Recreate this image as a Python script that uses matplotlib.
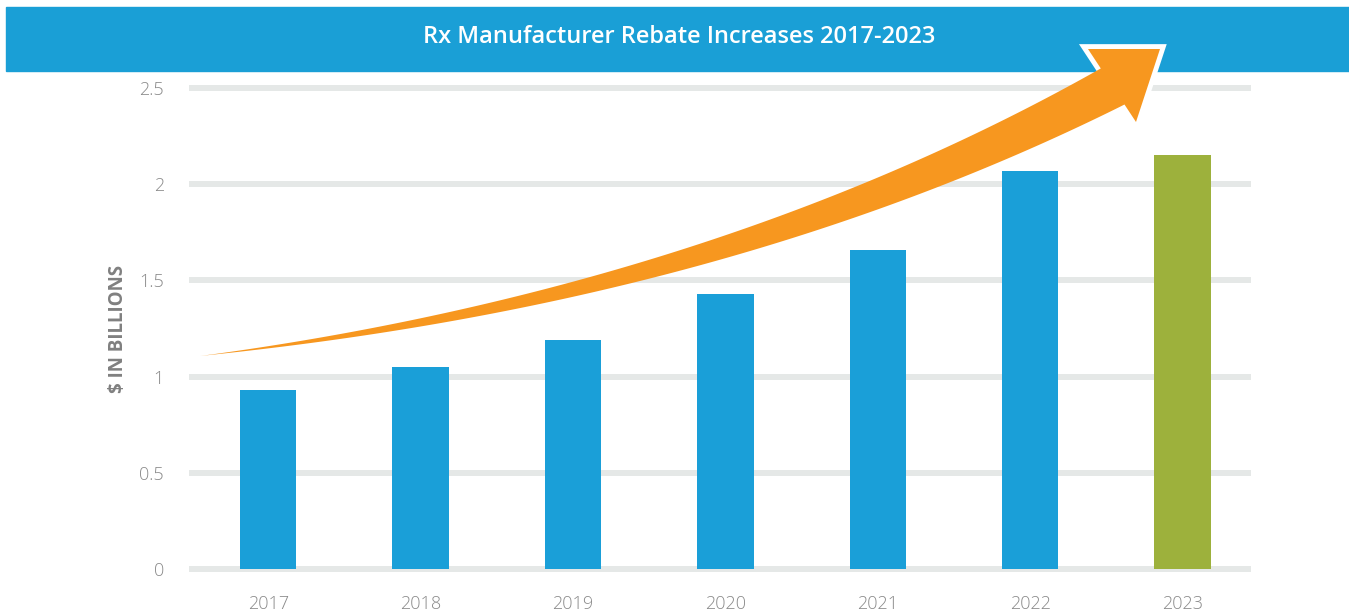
import numpy as np
import matplotlib
matplotlib.use('Agg')
import matplotlib.pyplot as plt
from matplotlib.patches import Rectangle, Polygon

years = ['2017', '2018', '2019', '2020', '2021', '2022', '2023']
rebates = [0.93, 1.05, 1.19, 1.43, 1.66, 2.07, 2.15]
yticks = [0, 0.5, 1, 1.5, 2, 2.5]
ytick_labels = ['0', '0.5', '1', '1.5', '2', '2.5']
title = 'Rx Manufacturer Rebate Increases 2017-2023'
ylabel = '$ IN BILLIONS'

blue = '#1a9fd8'
green = '#9db13c'
orange = '#f7971f'
grid_col = '#e5e8e7'
tick_col = '#8a8a8a'

plt.rcParams['font.family'] = ['Open Sans', 'DejaVu Sans']

W, H = 1349, 616
fig = plt.figure(figsize=(W / 100, H / 100), dpi=100)

# main axes (pixel box: x 189-1251, y0 at 569 from top)
ax = fig.add_axes([189 / W, 43.1 / H, (1251 - 189) / W, (531.9 - 43.1) / H])
x = np.arange(len(years))
colors = [blue] * (len(years) - 1) + [green]
ax.bar(x, rebates, width=0.37, color=colors, zorder=3)
ax.set_xlim(-0.52, 6.45)
ax.set_ylim(-0.02, 2.52)
ax.set_yticks(yticks)
ax.set_yticklabels(ytick_labels)
ax.set_xticks(x)
ax.set_xticklabels(years)
for y in yticks:
    ax.axhline(y, color=grid_col, lw=4.3, zorder=1, solid_capstyle='butt')
for s in ax.spines.values():
    s.set_visible(False)
ax.tick_params(axis='both', length=0, colors=tick_col, labelsize=13)
ax.tick_params(axis='y', pad=18)
ax.tick_params(axis='x', pad=16)
for lab in ax.get_xticklabels() + ax.get_yticklabels():
    lab.set_fontweight('light')
ax.set_ylabel(ylabel, fontsize=13.5, fontweight='bold', color='#808080', labelpad=8)

# overlay in pixel coords: title band + arrow
ov = fig.add_axes([0, 0, 1, 1], facecolor='none')
ov.set_xlim(0, W)
ov.set_ylim(H, 0)
ov.axis('off')
ov.add_patch(Rectangle((6, 7), W - 6, 64, color='#1a9fd6', zorder=1))
ov.text(679, 37, title, color='white', fontsize=17, fontweight='semibold',
        ha='center', va='center', zorder=2)

# curved arrow
p0 = np.array([200.0, 356.0])
c = np.array([720.0, 295.0])
p2 = np.array([1112.5, 86.5])
t = np.linspace(0, 1.006, 200)
pts = ((1 - t) ** 2)[:, None] * p0 + (2 * (1 - t) * t)[:, None] * c + (t ** 2)[:, None] * p2
der = (2 * (1 - t))[:, None] * (c - p0) + (2 * t)[:, None] * (p2 - c)
der /= np.linalg.norm(der, axis=1)[:, None]
nrm = np.column_stack([der[:, 1], -der[:, 0]])
wid = 43 * np.clip(t, 0, 1) ** 1.1
upper = pts + nrm * wid[:, None] / 2
lower = pts - nrm * wid[:, None] / 2
head = np.array([[1088, 49], [1160, 49], [1136, 122]])
ov.add_patch(Polygon(head, closed=True, facecolor=orange, edgecolor='white',
                     lw=7, joinstyle='miter', zorder=3))
shaft = np.vstack([upper, lower[::-1]])
ov.add_patch(Polygon(shaft, closed=True, facecolor=orange, edgecolor='none', zorder=4))
ov.add_patch(Polygon(head, closed=True, facecolor=orange, edgecolor='none', zorder=5))

fig.savefig('out.png', dpi=100)
